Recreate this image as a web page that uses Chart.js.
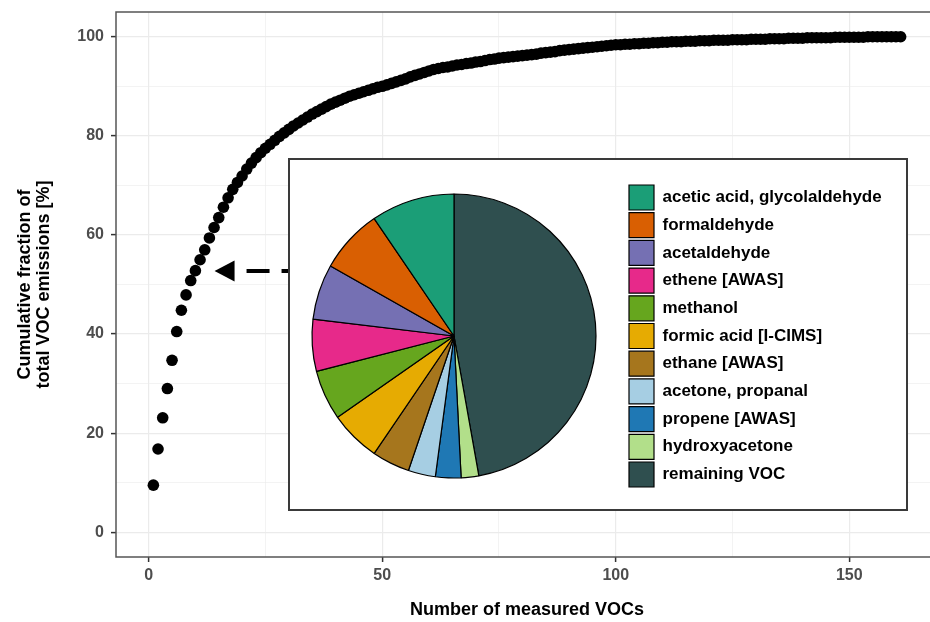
<!DOCTYPE html>
<html>
<head>
<meta charset="utf-8">
<script src="https://cdn.jsdelivr.net/npm/chart.js@4.4.0/dist/chart.umd.min.js"></script>
<style>
  body { margin: 0; background: #fff; }
  #wrap { position: relative; width: 930px; height: 622px; overflow: hidden; }
  #main { position: absolute; left: 0; top: 0; }
  #insetBox { position: absolute; left: 288px; top: 158px; width: 620px; height: 353px;
              box-sizing: border-box; border: 2px solid #3a3a3a; background: #fff; }
  #inset { position: absolute; left: 270px; top: 160px; }
</style>
</head>
<body>
<div id="wrap">
  <canvas id="main" width="945" height="622"></canvas>
  <div id="insetBox"></div>
  <canvas id="inset" width="660" height="352"></canvas>
</div>
<script>
// cumulative fraction (%) for VOC number 1..161
const vocCumulative = [
  9.5, 16.8, 23.1, 29.0, 34.7, 40.5, 44.8, 47.9, 50.8, 52.8,
  55.0, 57.0, 59.4, 61.5, 63.5, 65.6, 67.5, 69.2, 70.6, 71.9,
  73.3, 74.5, 75.6, 76.6, 77.5, 78.3, 79.1, 79.9, 80.6, 81.3,
  82.0, 82.6, 83.2, 83.8, 84.4, 84.9, 85.4, 85.9, 86.4, 86.8,
  87.2, 87.6, 88.0, 88.3, 88.6, 88.9, 89.2, 89.5, 89.8, 90.0,
  90.3, 90.6, 90.9, 91.2, 91.5, 91.9, 92.2, 92.5, 92.8, 93.1,
  93.4, 93.6, 93.8, 93.9, 94.1, 94.3, 94.4, 94.6, 94.7, 94.9,
  95.0, 95.2, 95.4, 95.5, 95.7, 95.8, 95.9, 96.0, 96.1, 96.2,
  96.3, 96.4, 96.5, 96.7, 96.8, 96.9, 97.0, 97.2, 97.3, 97.4,
  97.5, 97.6, 97.7, 97.8, 97.9, 98.0, 98.1, 98.2, 98.3, 98.4,
  98.4, 98.5, 98.5, 98.6, 98.6, 98.7, 98.7, 98.8, 98.8, 98.9,
  98.9, 99.0, 99.0, 99.0, 99.1, 99.1, 99.1, 99.2, 99.2, 99.2,
  99.3, 99.3, 99.3, 99.3, 99.4, 99.4, 99.4, 99.4, 99.5, 99.5,
  99.5, 99.5, 99.6, 99.6, 99.6, 99.6, 99.7, 99.7, 99.7, 99.7,
  99.8, 99.8, 99.8, 99.8, 99.8, 99.8, 99.9, 99.9, 99.9, 99.9,
  99.9, 99.9, 99.9, 100.0, 100.0, 100.0, 100.0, 100.0, 100.0, 100.0, 100.0
];

const xMajorTicks = [0, 50, 100, 150];
const xMinorTicks = [25, 75, 125];
const yMajorTicks = [0, 20, 40, 60, 80, 100];
const yMinorTicks = [10, 30, 50, 70, 90];

// pie shares (%), in legend order
const pieLabels = ['acetic acid, glycolaldehyde', 'formaldehyde', 'acetaldehyde', 'ethene [AWAS]',
  'methanol', 'formic acid [I-CIMS]', 'ethane [AWAS]', 'acetone, propanal', 'propene [AWAS]',
  'hydroxyacetone', 'remaining VOC'];
const pieValues = [9.5, 7.3, 6.3, 5.9, 5.7, 5.8, 4.3, 3.1, 2.9, 2.0, 47.2];
const pieColors = ['#1B9E77', '#D95F02', '#7570B3', '#E7298A', '#66A61E', '#E6AB02',
  '#A6761D', '#A6CEE3', '#1F78B4', '#B2DF8A', '#2F4F4F'];

// dashed arrow, data coordinates (tail, head)
const arrowFrom = [30, 52.7];
const arrowTo = [14.1, 52.7];

const family = '"Liberation Sans", Arial, sans-serif';
const tickFont = {family: family, size: 16, weight: 'bold'};
const titleFont = {family: family, size: 18, weight: 'bold', lineHeight: 1.06};
const legendFont = {family: family, size: 17, weight: 'bold'};

function setTicks(major, minor) {
  return function(scale) {
    scale.ticks = major.concat(minor).sort((a, b) => a - b).map(v => ({value: v}));
  };
}

function gridFor(major) {
  return {
    color: '#ebebeb',
    lineWidth: c => major.includes(c.tick.value) ? 1.2 : 0.6,
    tickColor: c => major.includes(c.tick.value) ? '#333' : 'rgba(0,0,0,0)',
    tickLength: 5,
    tickWidth: 1.5,
    drawTicks: true
  };
}

const panelBorder = {
  id: 'panelBorder',
  afterDraw(chart) {
    const {ctx, chartArea: a} = chart;
    ctx.save();
    ctx.strokeStyle = '#555';
    ctx.lineWidth = 1.5;
    ctx.strokeRect(a.left, a.top, a.right - a.left, a.bottom - a.top);
    ctx.restore();
  }
};

const dashedArrow = {
  id: 'dashedArrow',
  afterDatasetsDraw(chart) {
    const {ctx, scales: {x, y}} = chart;
    const hx = x.getPixelForValue(arrowTo[0]), hy = y.getPixelForValue(arrowTo[1]);
    const tx = x.getPixelForValue(arrowFrom[0]), ty = y.getPixelForValue(arrowFrom[1]);
    ctx.save();
    ctx.strokeStyle = '#000';
    ctx.fillStyle = '#000';
    ctx.lineWidth = 4;
    ctx.setLineDash([23, 12]);
    ctx.lineDashOffset = 23;
    ctx.beginPath();
    ctx.moveTo(hx + 20, hy);
    ctx.lineTo(tx, ty);
    ctx.stroke();
    ctx.setLineDash([]);
    ctx.beginPath();
    ctx.moveTo(hx, hy);
    ctx.lineTo(hx + 20, hy - 10.5);
    ctx.lineTo(hx + 20, hy + 10.5);
    ctx.closePath();
    ctx.fill();
    ctx.restore();
  }
};

new Chart(document.getElementById('main'), {
  type: 'scatter',
  data: {
    datasets: [{
      data: vocCumulative.map((v, i) => ({x: i + 1, y: v})),
      backgroundColor: '#000',
      borderWidth: 0,
      pointRadius: 5.8
    }]
  },
  options: {
    responsive: false,
    animation: false,
    layout: {padding: {top: 12, right: 7, left: 0, bottom: 0}},
    plugins: {legend: {display: false}, tooltip: {enabled: false}},
    scales: {
      x: {
        type: 'linear', min: -7, max: 169,
        afterBuildTicks: setTicks(xMajorTicks, xMinorTicks),
        afterFit: s => { s.height = 65; s.paddingLeft = 0; s.paddingRight = 0; },
        ticks: {
          callback: v => xMajorTicks.includes(v) ? String(v) : '',
          color: '#4d4d4d', font: tickFont, padding: 4, maxRotation: 0, autoSkip: false
        },
        grid: gridFor(xMajorTicks),
        border: {display: false},
        title: {display: true, text: 'Number of measured VOCs', color: '#000',
                font: titleFont, padding: {top: 0, bottom: 2}}
      },
      y: {
        type: 'linear', min: -5, max: 105,
        afterBuildTicks: setTicks(yMajorTicks, yMinorTicks),
        afterFit: s => { s.width = 116; s.paddingTop = 0; s.paddingBottom = 0; },
        ticks: {
          callback: v => yMajorTicks.includes(v) ? String(v) : '',
          color: '#4d4d4d', font: tickFont, padding: 7, autoSkip: false
        },
        grid: gridFor(yMajorTicks),
        border: {display: false},
        title: {display: true, text: ['Cumulative fraction of', 'total VOC emissions [%]'],
                color: '#000', font: titleFont, padding: {top: 15.5, bottom: 0}}
      }
    }
  },
  plugins: [dashedArrow, panelBorder]
});

// inset pie, drawn clockwise from the top starting with "remaining VOC"
const measure = document.createElement('canvas').getContext('2d');
measure.font = 'bold 17px ' + family;
const maxTextW = Math.max(...pieLabels.map(t => measure.measureText(t).width));
const legendPad = 2.7, legendBox = 25;
const legendW = legendPad + legendBox + 17 / 2 + maxTextW + 10;
const insetW = 660, pieLeft = 11.7, pieRight = 356.3;

new Chart(document.getElementById('inset'), {
  type: 'pie',
  data: {
    labels: pieLabels.slice().reverse(),
    datasets: [{
      data: pieValues.slice().reverse(),
      backgroundColor: pieColors.slice().reverse(),
      borderColor: '#000',
      borderWidth: 1.2,
      hoverOffset: 0,
      radius: 142
    }]
  },
  options: {
    responsive: false,
    animation: false,
    layout: {padding: {left: pieLeft, right: insetW - pieRight - legendW, top: 0, bottom: 0}},
    plugins: {
      tooltip: {enabled: false},
      legend: {
        position: 'right',
        reverse: true,
        labels: {boxWidth: legendBox, boxHeight: legendBox, padding: legendPad,
                 font: legendFont, color: '#000'}
      }
    }
  }
});
</script>
</body>
</html>
